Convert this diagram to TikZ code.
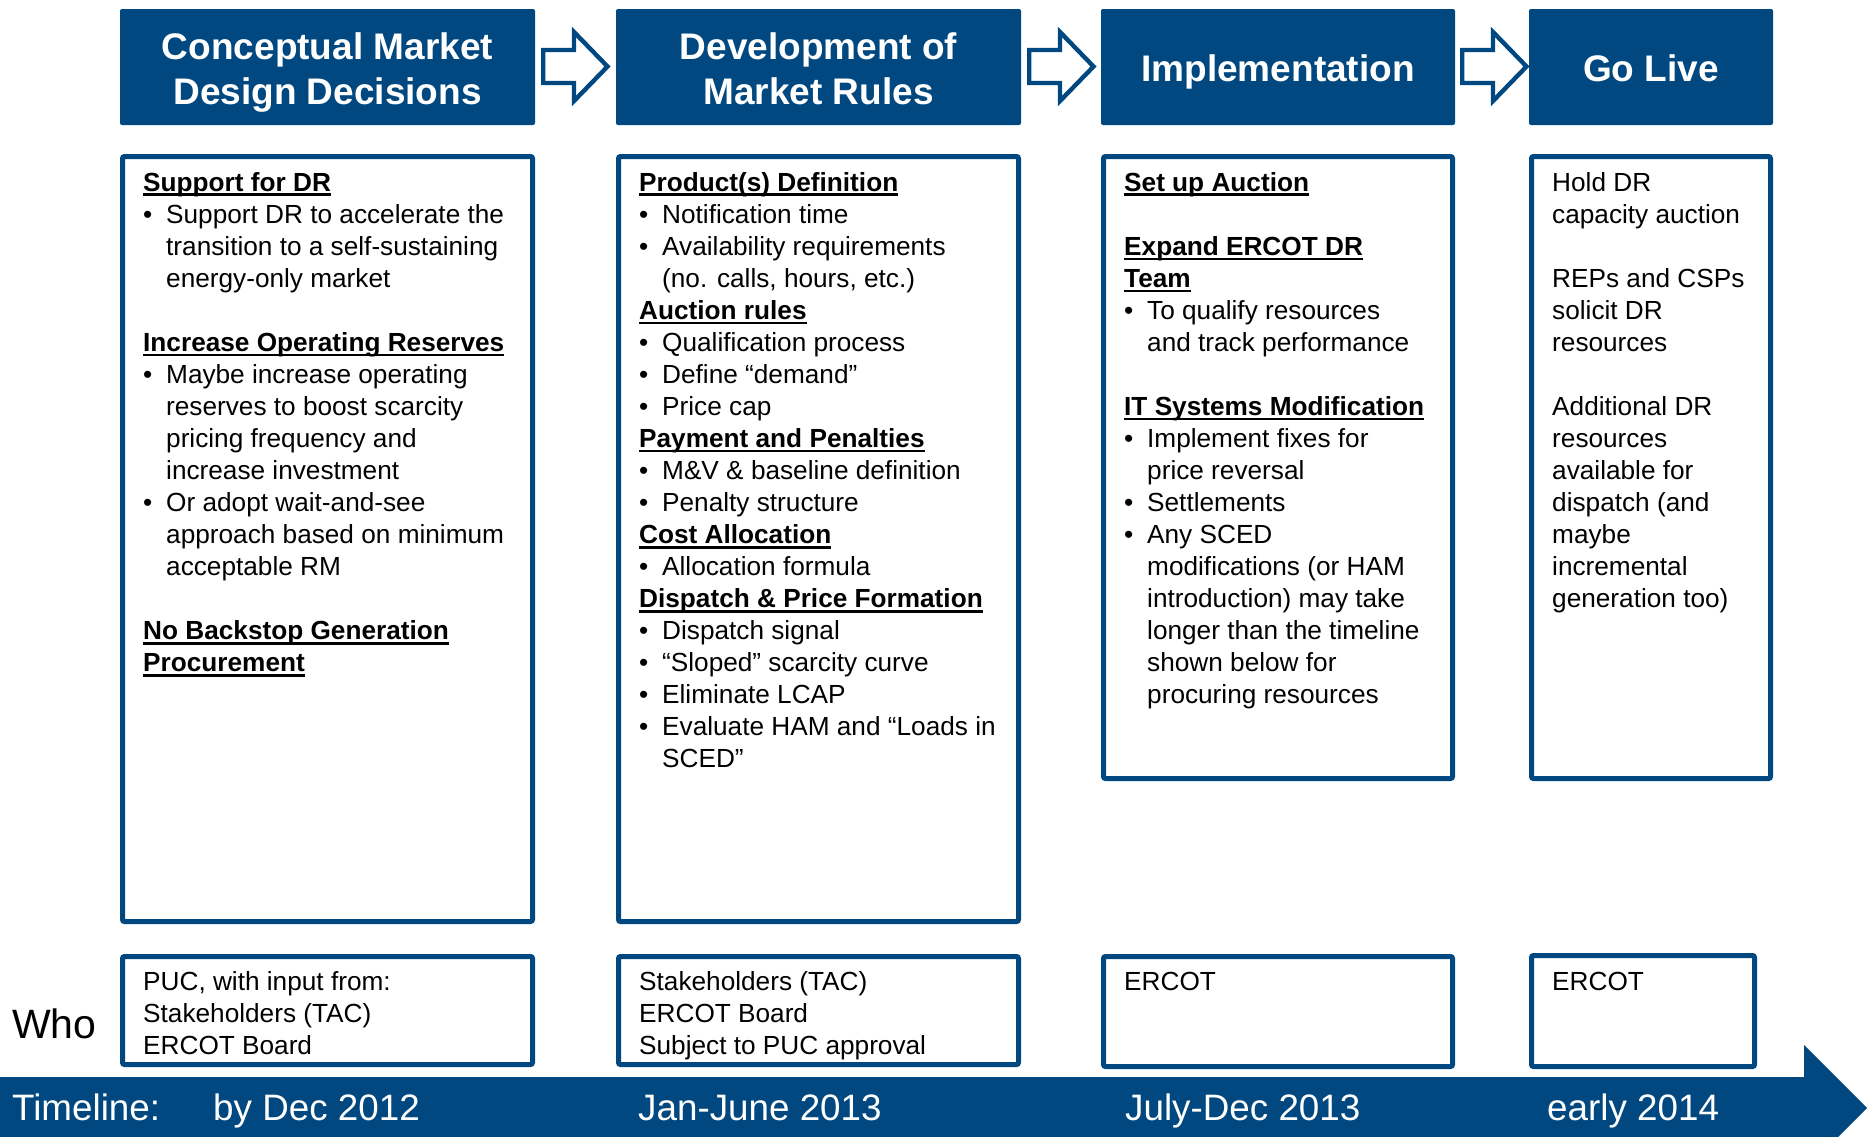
\documentclass[tikz,border=0pt]{standalone}
\usepackage{fontspec}
\setmainfont{Liberation Sans}
\definecolor{ercot}{RGB}{0,72,127}
\newsavebox\hdbox
\newcommand\hdu[1]{\sbox\hdbox{\bfseries #1}\rlap{\rule[-5pt]{\wd\hdbox}{2.6pt}}\usebox\hdbox}
\newcommand\Ln[1]{\hbox{#1}}
\newcommand\Bl[1]{\hbox{\makebox[23pt][l]{•}#1}}
\newcommand\Ct[1]{\hbox{\hspace*{23pt}#1}}
\newcommand\Hd[1]{\hbox{\hdu{#1}}}
\newcommand\Sk{\hbox{}}
\newcommand\Col[1]{\vtop{\baselineskip=32.05pt\lineskiplimit=-1000pt\lineskip=0pt #1}}
\begin{document}
\begin{tikzpicture}[x=1pt,y=-1pt,
  hdr/.style={fill=ercot, rounded corners=2pt, inner sep=0pt},
  hdrt/.style={anchor=base, inner sep=0pt, text=white,
    font=\fontsize{37}{45}\selectfont\bfseries},
  cbox/.style={draw=ercot, line width=5pt, rounded corners=2pt, inner sep=0pt, fill=white},
  body/.style={anchor=base west, inner sep=0pt, font=\fontsize{26.2}{32.05}\selectfont},
  tl/.style={anchor=base west, inner sep=0pt, text=white, font=\fontsize{36.8}{44}\selectfont},
  harrow/.style={draw=ercot, line width=4.4pt, fill=white, miter limit=10}]
\useasboundingbox (0,0) rectangle (1869,1136);
\fill[white] (0,0) rectangle (1869,1136);

% header boxes
\node[hdr, minimum width=415pt, minimum height=116pt] (h1) at (327.5,67) {};
\node[hdr, minimum width=405pt, minimum height=116pt] (h2) at (818.5,67) {};
\node[hdr, minimum width=354pt, minimum height=116pt] (h3) at (1278,67) {};
\node[hdr, minimum width=244pt, minimum height=116pt] (h4) at (1651,67) {};
\node[hdrt] (h1a) at (327.5,59) {Conceptual Market};
\node[hdrt] (h1b) at (327.5,104) {Design Decisions};
\node[hdrt] (h2a) at (818.5,59) {Development of};
\node[hdrt] (h2b) at (818.5,104) {Market Rules};
\node[hdrt] (h3a) at (1278,81) {Implementation};
\node[hdrt] (h4a) at (1651,81) {Go Live};

% hollow arrows between headers
\foreach \s in {541,1027,1460}
  \draw[harrow] (\s+2.2,50) -- (\s+33,50) -- (\s+33,32) -- (\s+66.5,66.5) -- (\s+33,101) -- (\s+33,83) -- (\s+2.2,83) -- cycle;

% content boxes
\node[cbox, minimum width=410pt, minimum height=765pt] (c1) at (327.5,539) {};
\node[cbox, minimum width=400pt, minimum height=765pt] (c2) at (818.5,539) {};
\node[cbox, minimum width=349pt, minimum height=622pt] (c3) at (1278,467.5) {};
\node[cbox, minimum width=239pt, minimum height=622pt] (c4) at (1651,467.5) {};

\node[body] (t1) at (143,191) {\Col{%
\Hd{Support for DR}
\Bl{Support DR to accelerate the}
\Ct{transition to a self-sustaining}
\Ct{energy-only market}
\Sk
\Hd{Increase Operating Reserves}
\Bl{Maybe increase operating}
\Ct{reserves to boost scarcity}
\Ct{pricing frequency and}
\Ct{increase investment}
\Bl{Or adopt wait-and-see}
\Ct{approach based on minimum}
\Ct{acceptable RM}
\Sk
\Hd{No Backstop Generation}
\Hd{Procurement}}};

\node[body] (t2) at (639,191) {\Col{%
\Hd{Product(s) Definition}
\Bl{Notification time}
\Bl{Availability requirements}
\Ct{(no. calls, hours, etc.)}
\Hd{Auction rules}
\Bl{Qualification process}
\Bl{Define “demand”}
\Bl{Price cap}
\Hd{Payment and Penalties}
\Bl{M\&V \& baseline definition}
\Bl{Penalty structure}
\Hd{Cost Allocation}
\Bl{Allocation formula}
\Hd{Dispatch \& Price Formation}
\Bl{Dispatch signal}
\Bl{“Sloped” scarcity curve}
\Bl{Eliminate LCAP}
\Bl{Evaluate HAM and “Loads in}
\Ct{SCED”}}};

\node[body] (t3) at (1124,191) {\Col{%
\Hd{Set up Auction}
\Sk
\Hd{Expand ERCOT DR}
\Hd{Team}
\Bl{To qualify resources}
\Ct{and track performance}
\Sk
\Hd{IT Systems Modification}
\Bl{Implement fixes for}
\Ct{price reversal}
\Bl{Settlements}
\Bl{Any SCED}
\Ct{modifications (or HAM}
\Ct{introduction) may take}
\Ct{longer than the timeline}
\Ct{shown below for}
\Ct{procuring resources}}};

\node[body] (t4) at (1552,191) {\Col{%
\Ln{Hold DR}
\Ln{capacity auction}
\Sk
\Ln{REPs and CSPs}
\Ln{solicit DR}
\Ln{resources}
\Sk
\Ln{Additional DR}
\Ln{resources}
\Ln{available for}
\Ln{dispatch (and}
\Ln{maybe}
\Ln{incremental}
\Ln{generation too)}}};

% who boxes
\node[cbox, minimum width=410pt, minimum height=108pt] (w1) at (327.5,1010.5) {};
\node[cbox, minimum width=400pt, minimum height=108pt] (w2) at (818.5,1010.5) {};
\node[cbox, minimum width=349pt, minimum height=110pt] (w3) at (1278,1011.5) {};
\node[cbox, minimum width=223pt, minimum height=111pt] (w4) at (1643,1011) {};

\node[body] (wt1) at (143,990) {\Col{\Ln{PUC, with input from:}\Ln{Stakeholders (TAC)}\Ln{ERCOT Board}}};
\node[body] (wt2) at (639,990) {\Col{\Ln{Stakeholders (TAC)}\Ln{ERCOT Board}\Ln{Subject to PUC approval}}};
\node[body] (wt3) at (1124,990) {ERCOT};
\node[body] (wt4) at (1552,990) {ERCOT};

\node[anchor=base west, inner sep=0pt, font=\fontsize{41}{48}\selectfont] (who) at (12,1038) {Who};

% timeline arrow
\fill[ercot] (0,1077) -- (1804,1077) -- (1804,1045) -- (1867,1108) -- (1804,1171) -- (1804,1139) -- (0,1139) -- cycle;
\node[tl] (tla) at (12,1120) {Timeline:};
\node[tl] (tlb) at (213,1120) {by Dec 2012};
\node[tl] (tlc) at (638,1120) {Jan-June 2013};
\node[tl] (tld) at (1125,1120) {July-Dec 2013};
\node[tl] (tle) at (1547,1120) {early 2014};
\end{tikzpicture}
\end{document}
